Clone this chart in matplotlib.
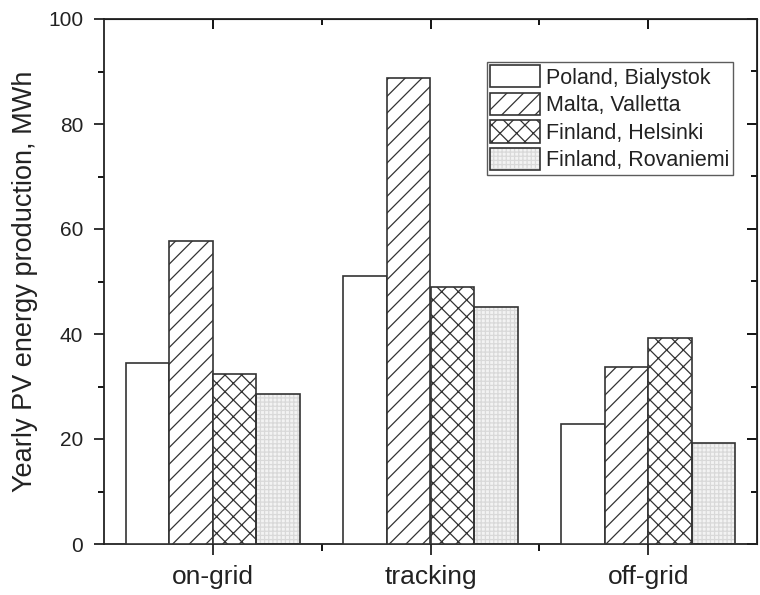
import matplotlib
matplotlib.use("Agg")
import matplotlib.pyplot as plt
from matplotlib.patches import Patch
from matplotlib.ticker import MultipleLocator, FixedLocator
import numpy as np

plt.rcParams['font.family'] = ['Liberation Sans', 'DejaVu Sans']
plt.rcParams['hatch.linewidth'] = 0.9

# data
categories = ['on-grid', 'tracking', 'off-grid']
series_names = ['Poland, Bialystok', 'Malta, Valletta', 'Finland, Helsinki', 'Finland, Rovaniemi']
bialystok = [34.5, 51.0, 22.8]
valletta = [57.8, 88.8, 33.7]
helsinki = [32.4, 49.0, 39.2]
rovaniemi = [28.6, 45.1, 19.3]

series = [bialystok, valletta, helsinki, rovaniemi]
hatches = [None, '//', 'xx', '++++']
edge = '#333333'

fig = plt.figure(figsize=(7.6, 5.95), dpi=100)
ax = fig.add_axes([104/760, 1 - 544/595, (757 - 104)/760, (544 - 19)/595])

x = np.arange(len(categories))
w = 0.2
handles = []
for i, vals in enumerate(series):
    pos = x + (i - 1.5) * w
    if i == 3:
        # light grey fine grid fill, then a dark outline on top
        ax.bar(pos, vals, w, color='#f3f3f3', edgecolor='#d9d9d9', hatch=hatches[i], linewidth=0, zorder=2)
        ax.bar(pos, vals, w, fill=False, edgecolor=edge, linewidth=1.2, zorder=3)
        h = (Patch(facecolor='#f3f3f3', edgecolor='#d9d9d9', hatch=hatches[i], linewidth=0),
             Patch(fill=False, edgecolor=edge, linewidth=1.2))
    else:
        ax.bar(pos, vals, w, color='white', edgecolor=edge, hatch=hatches[i], linewidth=1.2, zorder=3)
        h = Patch(facecolor='white', edgecolor=edge, hatch=hatches[i], linewidth=1.2)
    handles.append(h)

ax.set_xlim(-0.5, 2.5)
ax.set_ylim(0, 100)
ax.set_xticks(x)
ax.set_xticklabels(categories, fontsize=19)
ax.xaxis.set_minor_locator(FixedLocator([0.5, 1.5]))
ax.yaxis.set_major_locator(MultipleLocator(20))
ax.yaxis.set_minor_locator(MultipleLocator(10))
ax.tick_params(axis='y', which='major', direction='out', length=7, width=1.3, labelsize=15,
               colors='#222222', pad=8)
ax.tick_params(axis='y', which='minor', direction='out', length=4, width=1.3)
ax.tick_params(axis='x', which='major', direction='out', length=8, width=1.3, labelsize=19,
               colors='#222222', pad=7)
ax.tick_params(axis='x', which='minor', direction='out', length=5, width=1.3)
for s in ax.spines.values():
    s.set_linewidth(1.3)
    s.set_color('#222222')

# top and right axes with inward ticks, no labels
top = ax.secondary_xaxis('top')
top.set_xticks(x)
top.xaxis.set_minor_locator(FixedLocator([0.5, 1.5]))
top.tick_params(which='major', direction='in', length=7, width=1.3, labeltop=False)
top.tick_params(which='minor', direction='in', length=4, width=1.3)
right = ax.secondary_yaxis('right')
right.yaxis.set_major_locator(MultipleLocator(20))
right.yaxis.set_minor_locator(MultipleLocator(10))
right.tick_params(which='major', direction='in', length=7, width=1.3, labelright=False)
right.tick_params(which='minor', direction='in', length=4, width=1.3)

ax.set_ylabel('Yearly PV energy production, MWh', fontsize=19.5, color='#222222')
ax.yaxis.set_label_coords(-0.101, 0.5)

leg = ax.legend(handles, series_names, loc='upper right',
                bbox_to_anchor=(733/760, 1 - 62/595), bbox_transform=fig.transFigure,
                fontsize=15.5, frameon=True, fancybox=False, edgecolor='#333333',
                handlelength=2.3, handleheight=1.2, labelspacing=0.2,
                handletextpad=0.3, borderpad=0.15, borderaxespad=0)
leg.get_frame().set_linewidth(1.0)
for t in leg.get_texts():
    t.set_color('#222222')

fig.savefig('out.png', dpi=100)
